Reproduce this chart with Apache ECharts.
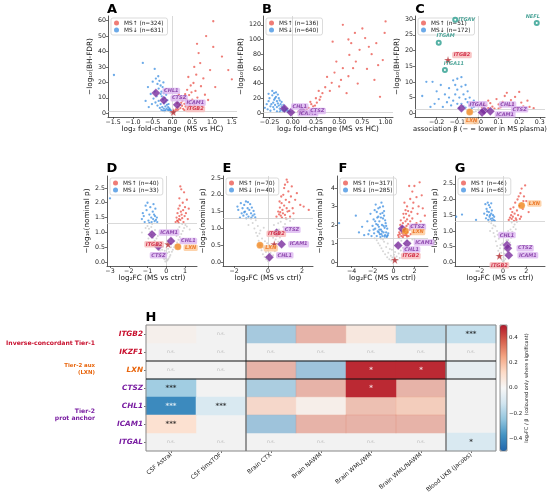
<!DOCTYPE html>
<html>
<head>
<meta charset="utf-8">
<script src="https://cdn.jsdelivr.net/npm/echarts@6/dist/echarts.min.js"></script>
<style>
  html, body { margin: 0; padding: 0; background: #fff; }
  #chart { width: 550px; height: 497px; }
</style>
</head>
<body>
<div id="chart"></div>
<script>
// ---------- data ----------
// panel A : log2FC vs -log10(BH-FDR), CSF
const aUp = [[0.05,1.5],[0.08,2.2],[0.1,3.1],[0.12,1.8],[0.14,4.2],[0.15,2.6],[0.18,5.5],[0.2,3.4],[0.22,6.8],[0.24,4.9],[0.25,8.2],[0.27,2.9],[0.28,10.5],[0.3,6.1],[0.32,12.4],[0.33,4.4],[0.35,9.0],[0.37,15.2],[0.38,7.3],[0.4,23.5],[0.42,11.8],[0.44,5.2],[0.46,18.0],[0.48,13.6],[0.5,8.8],[0.53,19.6],[0.55,30.0],[0.58,14.5],[0.6,25.0],[0.63,10.2],[0.66,39.0],[0.7,32.5],[0.72,17.5],[0.78,22.6],[0.82,12.0],[0.9,8.6],[0.95,28.0],[1.03,43.0],[1.03,59.6],[1.08,17.0],[1.25,36.7],[1.41,28.0],[0.62,45.0],[0.85,50.0],[0.12,6.5],[0.2,9.5],[0.16,12.0],[0.3,2.0],[0.45,3.0],[0.55,5.5],[1.5,22.0]];
const aDown = [[-1.48,24.8],[-0.75,32.6],[-0.45,28.7],[-0.62,17],[-0.55,12.5],[-0.68,8],[-0.5,20.5],[-0.42,22.5],[-0.38,19],[-0.35,16],[-0.33,21],[-0.3,18],[-0.28,14],[-0.27,11],[-0.25,17],[-0.24,9],[-0.22,13],[-0.21,6.5],[-0.2,15],[-0.19,10],[-0.18,4.5],[-0.17,7.5],[-0.16,12],[-0.15,3],[-0.14,5.5],[-0.13,8.5],[-0.12,2.2],[-0.11,4],[-0.1,6],[-0.09,1.8],[-0.08,3.2],[-0.07,2.5],[-0.06,1.5],[-0.05,2],[-0.04,1.6],[-0.3,6],[-0.35,8],[-0.4,11],[-0.45,14],[-0.26,4],[-0.22,3],[-0.18,2],[-0.32,3.5],[-0.28,2.2],[-0.24,1.6],[-0.2,1.4],[-0.38,5],[-0.43,7],[-0.48,9.5],[-0.52,6],[-0.6,4],[-0.3,12.5],[-0.23,20],[-0.36,24]];
const aNs = [[0.02,0.3],[-0.02,0.5],[0.04,0.8],[-0.04,0.2],[0.0,0.6],[0.06,0.4],[-0.06,0.9],[0.01,1.0]];
const aGenes = [['CHL1',-0.42,13.2],['CTSZ',-0.22,8.5],['ICAM1',0.12,5.5],['ITGB2',0.02,0.8]];

// panel B : log2FC vs -log10(BH-FDR), second CSF platform
const bUp = [[0.54,120],[1.0,124.6],[0.99,109],[0.97,72],[0.94,22],[0.67,109],[0.78,102],[0.72,86],[0.61,79],[0.43,97],[0.47,70],[0.54,61],[0.65,61],[0.37,49],[0.42,41],[0.5,36],[0.58,27],[0.32,27],[0.29,18],[0.26,14],[0.22,9],[0.17,7],[0.85,80],[0.9,95],[0.63,95],[0.75,115],[0.8,60],[0.88,45],[0.7,40],[0.6,50],[0.45,55],[0.35,35],[0.3,22],[0.25,20],[0.2,12],[0.15,5],[0.12,4],[0.1,2.5],[0.08,3.5],[0.06,1.5],[0.14,8],[0.19,15],[0.24,10],[0.28,30],[0.4,30],[0.52,45],[0.68,70],[0.82,90],[0.92,65],[0.6,100]];
const bDown = [[-0.3,7],[-0.28,12],[-0.26,16],[-0.25,20],[-0.24,9],[-0.22,30],[-0.22,24],[-0.21,14],[-0.2,27],[-0.2,18],[-0.19,11],[-0.18,28],[-0.18,22],[-0.17,16],[-0.17,8],[-0.16,25],[-0.16,13],[-0.15,20],[-0.15,10],[-0.14,6],[-0.14,17],[-0.13,12],[-0.13,4],[-0.12,9],[-0.12,15],[-0.11,7],[-0.11,3],[-0.1,11],[-0.1,5],[-0.09,8],[-0.09,2],[-0.08,6],[-0.08,3.5],[-0.07,4.5],[-0.06,2.5],[-0.06,5],[-0.05,3],[-0.05,1.5],[-0.04,2],[-0.03,1.2],[-0.2,5],[-0.24,3],[-0.27,5],[-0.33,2],[-0.17,2],[-0.14,1.5],[-0.23,12],[-0.19,20],[-0.21,8],[-0.26,26]];
const bNs = [[0.01,0.4],[-0.01,0.8],[0.02,1.0],[-0.02,0.3]];
const bGenes = [['CHL1',-0.09,6],['ICAM1',-0.02,0.8],['CTSZ',0.1,2.8]];

// panel C : plasma association beta vs -log10(BH-FDR)
const cUp = [[0.02,1.8],[0.04,2.5],[0.05,1.6],[0.06,3.2],[0.07,2.1],[0.08,1.5],[0.09,4.5],[0.1,2.8],[0.11,1.9],[0.12,3.6],[0.13,5.5],[0.14,6.5],[0.15,2.4],[0.16,4.2],[0.17,3.0],[0.18,5.2],[0.19,1.7],[0.2,6.8],[0.21,3.4],[0.22,2.2],[0.24,4.0],[0.25,2.0],[0.27,1.6],[0.03,2.9],[0.1,1.5],[0.05,4.0]];
const cDown = [[-0.25,10],[-0.22,10],[-0.27,5.5],[-0.2,7],[-0.18,9],[-0.16,6],[-0.14,8],[-0.12,10.5],[-0.11,9],[-0.1,11],[-0.1,7.5],[-0.09,5],[-0.08,8.5],[-0.08,3],[-0.07,6],[-0.07,2.2],[-0.06,4.5],[-0.06,1.8],[-0.05,3.5],[-0.05,7],[-0.04,2.5],[-0.04,5],[-0.03,1.6],[-0.03,3],[-0.02,2],[-0.12,4],[-0.13,2.5],[-0.15,3.5],[-0.17,2],[-0.19,4.5],[-0.21,3],[-0.1,3],[-0.09,1.7],[-0.11,6],[-0.14,5],[-0.06,9],[-0.02,4],[-0.08,11.5],[-0.23,2]];
const cNs = [[0.01,0.3],[-0.01,0.6],[0.02,0.9],[-0.02,0.4],[0.0,1.1]];
const cGenes = [['ITGB2',-0.145,17],['ITGAL',-0.08,1.6],['LXN',-0.04,0.4],['CHL1',0.03,0.9],['ICAM1',0.02,0.2],['CTSZ',0.06,0.6]];
const cOthers = [['ITGAV',-0.11,29.8],['NEFL',0.285,28.8],['ITGAM',-0.19,22.5],['ITGA11',-0.16,13.8]];

// panel D : log2FC vs -log10(nominal p)
const dUp = [[0.5,1.35],[0.55,1.5],[0.58,1.4],[0.6,1.65],[0.62,1.38],[0.65,1.8],[0.68,1.45],[0.7,1.55],[0.72,1.9],[0.75,2.55],[0.75,1.42],[0.78,1.7],[0.8,2.45],[0.82,1.6],[0.85,1.48],[0.88,2.0],[0.9,1.75],[0.95,2.35],[0.98,1.55],[1.0,1.85],[1.05,1.65],[1.1,2.1],[1.15,1.45],[1.2,1.8],[0.7,2.15],[0.92,1.35],[0.66,1.32]];
const dDown = [[-3.0,2.15],[-1.3,1.45],[-1.2,1.55],[-1.15,1.35],[-1.05,1.75],[-1.0,2.0],[-0.95,1.4],[-0.9,1.6],[-0.85,1.85],[-0.8,1.5],[-0.78,1.35],[-0.72,1.7],[-0.7,1.45],[-0.65,1.6],[-0.62,1.38],[-0.6,1.55],[-0.55,1.42],[-0.5,1.5],[-0.48,1.35],[-1.1,1.9],[-0.9,1.32],[-0.68,1.95],[-1.25,1.65],[-0.58,1.8]];
const dNs = [[-0.05,0.02],[0.03,0.05],[0.08,0.08],[-0.1,0.1],[0.12,0.12],[-0.15,0.15],[0.18,0.18],[-0.2,0.2],[0.22,0.24],[-0.25,0.26],[0.05,0.3],[-0.3,0.32],[0.3,0.35],[-0.08,0.38],[-0.35,0.4],[0.35,0.42],[0.1,0.45],[-0.4,0.48],[0.42,0.5],[-0.18,0.52],[-0.48,0.55],[0.5,0.58],[0.2,0.6],[-0.55,0.62],[0.58,0.66],[-0.3,0.68],[-0.62,0.72],[0.65,0.75],[0.3,0.78],[-0.7,0.82],[0.72,0.85],[-0.45,0.88],[-0.78,0.92],[0.8,0.95],[0.5,0.98],[-0.85,1.02],[0.88,1.05],[-0.6,1.08],[-0.92,1.12],[0.95,1.15],[0.7,1.18],[-1.0,1.22],[1.02,1.25],[-0.75,1.28],[-1.1,1.15],[1.1,1.2],[-0.02,0.12],[0.0,0.22],[-0.12,0.28],[0.15,0.34],[-0.22,0.42],[0.25,0.5],[-0.35,0.6],[0.4,0.7],[-0.52,0.8],[0.55,0.88],[-0.65,0.98],[0.62,1.1],[-0.8,1.18],[0.85,1.28],[-1.3,1.0],[1.25,1.1],[-0.95,0.8],[0.9,0.75]];
const dGenes = [['ICAM1',-0.76,0.93],['CTSZ',-0.42,0.53],['ITGB2',0.1,0.6],['CHL1',0.25,0.71],['LXN',0.62,0.52]];

// panel E
const eUp = [[0.5,1.35],[0.6,1.5],[0.65,1.42],[0.7,1.62],[0.75,1.38],[0.8,1.75],[0.85,1.55],[0.88,1.45],[0.9,2.0],[0.95,1.68],[1.0,2.3],[1.0,1.4],[1.05,1.85],[1.1,2.45],[1.1,1.6],[1.15,1.5],[1.2,2.1],[1.25,1.78],[1.3,1.35],[1.35,1.95],[1.4,2.25],[1.45,1.6],[1.5,1.45],[1.6,1.85],[1.7,2.05],[1.9,1.7],[2.1,1.65],[2.4,1.55],[0.78,1.95],[0.95,2.2],[1.15,2.38],[0.68,1.8],[0.82,1.32],[1.05,1.3],[1.25,1.52],[0.72,1.48]];
const eDown = [[-1.8,1.65],[-1.75,1.55],[-1.6,1.75],[-1.55,1.45],[-1.5,1.6],[-1.45,1.38],[-1.4,1.7],[-1.35,1.5],[-1.3,1.8],[-1.25,1.42],[-1.2,1.6],[-1.15,1.35],[-1.1,1.55],[-1.05,1.72],[-1.0,1.45],[-0.95,1.62],[-0.9,1.38],[-0.85,1.52],[-0.8,1.42],[-0.75,1.33],[-1.65,1.32],[-1.28,1.3],[-0.98,1.32],[-1.4,1.48],[-1.18,1.78]];
const eNs = [[0.0,0.03],[0.1,0.06],[-0.1,0.08],[0.2,0.12],[-0.2,0.15],[0.05,0.18],[0.3,0.2],[-0.3,0.23],[0.15,0.27],[-0.12,0.3],[0.4,0.32],[-0.38,0.35],[0.25,0.4],[-0.25,0.43],[0.5,0.46],[-0.45,0.5],[0.35,0.53],[-0.05,0.56],[0.6,0.6],[-0.55,0.63],[0.45,0.67],[-0.35,0.7],[0.7,0.73],[-0.62,0.77],[0.2,0.8],[0.55,0.84],[-0.7,0.87],[0.8,0.9],[-0.45,0.94],[0.65,0.97],[-0.8,1.0],[0.9,1.04],[-0.6,1.07],[0.35,1.1],[1.0,1.13],[-0.9,1.16],[0.75,1.2],[-0.72,1.24],[1.1,1.27],[-1.0,1.29],[1.3,1.22],[1.5,1.28],[-1.15,1.1],[0.1,0.5],[-0.18,0.62],[0.3,0.72],[-0.5,0.85],[0.48,0.95],[-0.25,1.02],[0.6,1.15],[0.0,0.35],[-0.08,0.15]];
const eGenes = [['CTSZ',0.51,0.87],['ITGB2',0.37,0.53],['ICAM1',0.8,0.53],['LXN',-0.47,0.5],['CHL1',0.08,0.14]];

// panel F
const fUp = [[2.5,4.3],[2.0,4.1],[1.5,4.1],[1.8,3.8],[2.2,3.5],[1.6,3.4],[2.8,2.9],[3.0,2.5],[2.4,3.0],[1.9,3.2],[1.3,3.0],[2.6,2.2],[1.2,2.6],[0.5,1.35],[0.6,1.5],[0.7,1.7],[0.75,1.4],[0.8,1.9],[0.85,1.55],[0.9,2.1],[0.95,1.45],[1.0,2.4],[1.05,1.65],[1.1,1.85],[1.15,2.2],[1.2,1.5],[1.25,1.95],[1.3,2.3],[1.35,1.6],[1.4,2.05],[1.45,1.4],[1.5,2.5],[1.55,1.75],[1.6,2.2],[1.65,1.5],[1.7,2.7],[1.75,1.9],[1.8,2.35],[1.9,1.6],[2.0,2.0],[2.1,1.7],[2.3,2.6],[0.65,2.0],[0.9,1.35],[1.1,1.45],[1.3,1.38],[0.55,1.6],[0.95,2.6],[1.15,2.8],[1.4,2.75],[1.0,1.75],[0.8,1.6],[1.25,1.45],[1.6,1.85],[2.2,2.1],[0.7,2.25],[0.45,1.45],[1.85,2.9],[1.05,3.2],[2.7,3.6]];
const fDown = [[-5.2,2.1],[-3.6,2.5],[-3.3,1.6],[-3.0,1.9],[-2.8,1.45],[-2.5,2.2],[-2.3,1.7],[-2.2,2.6],[-2.1,1.4],[-2.0,1.95],[-1.9,2.3],[-1.85,1.55],[-1.8,2.8],[-1.75,1.8],[-1.7,3.1],[-1.65,2.05],[-1.6,1.4],[-1.55,2.4],[-1.5,1.65],[-1.45,2.9],[-1.4,1.9],[-1.35,2.2],[-1.3,1.5],[-1.25,2.6],[-1.2,1.75],[-1.15,3.2],[-1.1,2.0],[-1.05,1.4],[-1.0,2.35],[-0.95,1.6],[-0.9,2.75],[-0.85,1.85],[-0.8,1.45],[-0.75,2.1],[-0.7,1.6],[-0.65,1.35],[-0.6,1.8],[-0.55,1.45],[-0.5,1.55],[-1.3,2.95],[-1.0,3.0],[-0.9,2.5],[-1.2,2.4],[-1.4,1.6],[-1.6,2.7],[-1.1,1.65],[-0.8,2.25],[-1.5,2.0],[-1.25,1.35],[-0.95,1.95],[-0.7,1.95],[-1.75,2.2],[-1.05,2.65],[-1.35,1.75],[-1.15,1.5],[-0.85,1.38],[-1.45,2.45],[-1.9,1.75],[-2.4,1.5],[-0.6,1.4]];
const fNs = [[0,0.03],[0.2,0.06],[-0.2,0.08],[0.4,0.12],[-0.4,0.15],[0.1,0.18],[0.6,0.22],[-0.6,0.26],[0.3,0.3],[-0.25,0.34],[0.8,0.38],[-0.8,0.42],[0.5,0.46],[-0.5,0.5],[1.0,0.54],[-1.0,0.58],[0.7,0.62],[-0.15,0.66],[1.2,0.7],[-1.15,0.74],[0.9,0.78],[-0.7,0.82],[1.4,0.86],[-1.3,0.9],[0.35,0.94],[1.1,0.98],[-1.45,1.02],[1.6,1.06],[-0.9,1.1],[1.3,1.14],[-1.6,1.18],[1.8,1.22],[-1.2,1.26],[0.6,1.28],[-1.8,1.29],[2.0,1.25],[0.05,0.4],[-0.35,0.7],[0.25,0.85],[-0.55,1.0],[0.75,1.15],[-1.0,1.22],[-0.1,0.25],[0.15,0.55]];
const fGenes = [['CTSZ',0.83,1.8],['LXN',1.14,1.67],['ICAM1',1.3,1.0],['CHL1',0.45,0.9],['ITGB2',0.13,0.12]];

// panel G
const gUp = [[0.5,1.35],[0.6,1.42],[0.7,1.5],[0.75,1.38],[0.8,1.6],[0.85,1.45],[0.9,1.75],[1.0,1.55],[1.05,1.9],[1.1,1.4],[1.2,1.65],[1.25,2.0],[1.3,1.5],[1.4,1.8],[1.5,2.2],[1.55,1.45],[1.6,2.35],[1.7,1.7],[1.8,2.1],[1.9,2.45],[2.0,1.95],[2.2,1.6],[0.95,1.32],[1.15,1.35],[1.45,1.38],[1.35,2.1],[0.65,1.7],[1.75,1.95]];
const gDown = [[-4.0,1.45],[-3.5,1.52],[-2.3,1.35],[-1.6,1.55],[-1.5,1.85],[-1.45,1.4],[-1.4,1.7],[-1.35,1.5],[-1.3,1.9],[-1.25,1.35],[-1.2,1.6],[-1.15,1.45],[-1.1,1.75],[-1.05,1.38],[-1.0,1.55],[-0.95,1.65],[-0.9,1.4],[-0.85,1.5],[-0.8,1.35],[-0.75,1.45],[-1.2,1.82],[-1.0,1.88],[-1.35,1.62],[-0.95,1.32],[-1.1,1.5],[-0.7,1.32]];
const gNs = [[0,0.02],[0.1,0.05],[-0.1,0.08],[0.2,0.1],[-0.2,0.13],[0.05,0.16],[0.3,0.2],[-0.3,0.23],[0.15,0.27],[-0.15,0.3],[0.4,0.33],[-0.4,0.37],[0.25,0.41],[-0.25,0.45],[0.5,0.48],[-0.5,0.52],[0.35,0.56],[-0.05,0.6],[0.6,0.63],[-0.6,0.67],[0.45,0.71],[-0.35,0.75],[0.7,0.78],[-0.7,0.82],[0.2,0.86],[0.55,0.9],[-0.8,0.93],[0.8,0.97],[-0.5,1.0],[0.65,1.04],[-0.9,1.08],[0.9,1.12],[-0.65,1.15],[1.0,1.2],[-1.0,1.24],[0.75,1.27],[-1.2,1.29],[1.2,1.28],[0.1,0.4],[-0.2,0.55],[0.3,0.7],[-0.45,0.88],[0.45,1.0],[-0.8,1.18],[1.1,1.05],[-1.1,1.0]];
const gGenes = [['LXN',1.6,1.81],['CHL1',0.35,0.55],['CTSZ',0.42,0.45],['ICAM1',0.5,0.22],['ITGB2',-0.3,0.2]];

// counts shown in the legends [MS up, MS down]
const counts = { A:[324,631], B:[136,640], C:[51,172], D:[40,33], E:[70,40], F:[317,285], G:[46,65] };

// tick labels
const aXTicks = [-1.5,-1,-0.5,0,0.5,1,1.5], aYTicks = [0,10,20,30,40,50,60];
const bXTicks = [-0.25,0,0.25,0.5,0.75,1], bYTicks = [0,20,40,60,80,100,120];
const cXTicks = [-0.2,-0.1,0,0.1,0.2,0.3], cYTicks = [0,5,10,15,20,25,30];
const dXTicks = [-3,-2,-1,0,1], pYTicks = [0,0.5,1,1.5,2,2.5];
const eXTicks = [-2,0,2];
const fXTicks = [-4,-2,0,2], fYTicks = [0,1,2,3,4];
const gXTicks = [-2,0,2];

// panel H heatmap
const heatRows = ['ITGB2','IKZF1','LXN','CTSZ','CHL1','ICAM1','ITGAL'];
const heatCols = ['CSF Astral','CSF timsTOF','Brain CTX','Brain NAWM','Brain WML/WM','Brain WML/NAWM','Blood UKB (Jacobs)'];
const heatValues = [
  [0.05, null, -0.35, 0.35, 0.12, -0.28, -0.15],
  [null, null, null, null, null, null, null],
  [null, null, 0.35, -0.38, 0.47, 0.47, -0.1],
  [-0.22, null, -0.33, 0.35, 0.47, 0.35, null],
  [-0.4, -0.1, 0.2, 0.06, 0.3, 0.25, null],
  [0.1, null, -0.38, 0.35, 0.35, 0.35, null],
  [null, null, null, null, null, null, -0.1]
];
const heatMarks = [
  ['', 'n.s.', '', '', '', '', '***'],
  ['n.s.','n.s.','n.s.','n.s.','n.s.','n.s.','n.s.'],
  ['n.s.','n.s.', '', '', '*', '*', ''],
  ['***', '', '', '', '*', '', ''],
  ['***', '***', '', '', '', '', ''],
  ['***', '', '', '', '', '', ''],
  ['n.s.','n.s.','n.s.','n.s.','n.s.','n.s.','*']
];
const cbTicks = [-0.4, -0.2, 0, 0.2, 0.4];

// ---------- styles / layout ----------
const FONT = 'DejaVu Sans';
const RED = '#e8453c', BLUE = '#3b8de0', GRAY = '#b5b5b5';
const STAR = 'path://M50,2 L61,36 L97,36 L68,57 L79,92 L50,71 L21,92 L32,57 L3,36 L39,36 Z';
const geneKind = { CHL1:'purple', CTSZ:'purple', ICAM1:'purple', ITGAL:'purple', ITGB2:'red', IKZF1:'red', LXN:'orange',
                   ITGAV:'teal', NEFL:'teal', ITGAM:'teal', ITGA11:'teal' };
const kinds = {
  purple: { symbol:'diamond', size:9, color:'#7b2d9e', bg:'#dcb6f0', text:'#7b2d9e' },
  red:    { symbol:STAR, size:8, color:'#b3262b', bg:'#f7b9b9', text:'#c8102e' },
  orange: { symbol:'circle', size:7, color:'#f0851a', bg:'#fcc897', text:'#e8650c' },
  teal:   { symbol:'emptyCircle', size:4, color:'#2a9d8f', bg:null, text:'#1f8f7f' }
};
// label placement per panel: [position, dx, dy]
const labelPlace = {
  A: { CHL1:['right',0,-2], CTSZ:['right',0,-2], ICAM1:['right',1,-2], ITGB2:['right',6,-3] },
  B: { CHL1:['right',0,-2], ICAM1:['right',0,1], CTSZ:['right',0,0] },
  C: { ITGB2:['right',-2,-5], ITGAL:['right',0,-4], LXN:['bottom',2,0], CHL1:['right',8,-6], ICAM1:['right',6,2], CTSZ:['right',14,-2],
       ITGAV:['right',-2,0], NEFL:['top',-4,1], ITGAM:['top',7,1], ITGA11:['top',9,1] },
  D: { ICAM1:['right',0,-2], CTSZ:['bottom',0,-1], ITGB2:['left',2,0], CHL1:['right',2,0], LXN:['right',0,1] },
  E: { CTSZ:['right',0,-3], ITGB2:['top',2,-1], ICAM1:['right',0,0], LXN:['right',-2,3], CHL1:['right',0,-2] },
  F: { CTSZ:['right',0,-2], LXN:['right',0,1], ICAM1:['right',0,-1], CHL1:['right',-2,4], ITGB2:['right',0,-4] },
  G: { LXN:['right',0,-2], CHL1:['top',0,0], CTSZ:['right',2,0], ICAM1:['right',2,0], ITGB2:['bottom',0,0] }
};

const panels = [
  { id:'A', box:[108,16,129,101], xr:[-1.63,1.63], yr:[-2.4,63], xt:aXTicks, yt:aYTicks, xd:1, yd:0,
    xName:'log\u2082 fold-change (MS vs HC)', yName:'\u2212log\u2081\u2080(BH-FDR)', up:aUp, down:aDown, ns:aNs, genes:aGenes, others:[] },
  { id:'B', box:[263,16,130,101], xr:[-0.32,1.08], yr:[-5.5,132], xt:bXTicks, yt:bYTicks, xd:2, yd:0,
    xName:'log\u2082 fold-change (MS vs HC)', yName:'\u2212log\u2081\u2080(BH-FDR)', up:bUp, down:bDown, ns:bNs, genes:bGenes, others:[] },
  { id:'C', box:[415,16,130,101], xr:[-0.305,0.325], yr:[-1.2,31], xt:cXTicks, yt:cYTicks, xd:1, yd:0,
    xName:'association \u03b2 (\u2212 = lower in MS plasma)', yName:'\u2212log\u2081\u2080(BH-FDR)', up:cUp, down:cDown, ns:cNs, genes:cGenes, others:cOthers },
  { id:'D', box:[107,176,90,90], xr:[-3.16,1.64], yr:[-0.13,2.9], xt:dXTicks, yt:pYTicks, xd:0, yd:1,
    xName:'log\u2082FC (MS vs ctrl)', yName:'\u2212log\u2081\u2080(nominal p)', up:dUp, down:dDown, ns:dNs, genes:dGenes, others:[] },
  { id:'E', box:[223,176,90,90], xr:[-2.65,2.65], yr:[-0.12,2.56], xt:eXTicks, yt:pYTicks, xd:0, yd:1,
    xName:'log\u2082FC (MS vs ctrl)', yName:'\u2212log\u2081\u2080(nominal p)', up:eUp, down:eDown, ns:eNs, genes:eGenes, others:[] },
  { id:'F', box:[337,176,91,90], xr:[-5.4,3.3], yr:[-0.21,4.64], xt:fXTicks, yt:fYTicks, xd:0, yd:0,
    xName:'log\u2082FC (MS vs ctrl)', yName:'\u2212log\u2081\u2080(nominal p)', up:fUp, down:fDown, ns:fNs, genes:fGenes, others:[] },
  { id:'G', box:[455,176,90,90], xr:[-4.1,3.6], yr:[-0.12,2.75], xt:gXTicks, yt:pYTicks, xd:0, yd:1,
    xName:'log\u2082FC (MS vs ctrl)', yName:'\u2212log\u2081\u2080(nominal p)', up:gUp, down:gDown, ns:gNs, genes:gGenes, others:[] }
];

const HM = { left:146, top:325, width:350, height:126 };
const CB = { left:500, top:325, width:7, height:126 };

// ---------- build option ----------
const fmt = d => v => v.toFixed(d).replace('-', '\u2212');

function valueAxis(i, range, ticks, dec, name, gap, nameSize) {
  return {
    type:'value', gridIndex:i, min:range[0], max:range[1],
    name:name, nameLocation:'middle', nameGap:gap,
    nameTextStyle:{ fontSize:nameSize || 7.3, fontFamily:FONT, color:'#111' },
    axisLine:{ show:true, onZero:false, lineStyle:{ color:'#333', width:0.8 } },
    axisTick:{ show:true, length:2, customValues:ticks, lineStyle:{ color:'#333', width:0.7 } },
    axisLabel:{ customValues:ticks, formatter:fmt(dec), fontSize:6.3, fontFamily:FONT, color:'#222', margin:2 },
    splitLine:{ show:false }
  };
}

function geneSeries(i, panelId, list) {
  return {
    type:'scatter', xAxisIndex:i, yAxisIndex:i, z:5, silent:true,
    data:list.map(([g, x, y]) => {
      const k = kinds[geneKind[g]];
      const pl = labelPlace[panelId][g] || ['right',0,0];
      return {
        name:g, value:[x, y], symbol:k.symbol, symbolSize:k.size,
        itemStyle:{ color:k.color, borderColor:k.symbol === 'emptyCircle' ? k.color : '#fff', borderWidth:k.symbol === 'emptyCircle' ? 0.9 : 0.3 },
        label:{
          show:true, formatter:'{b}', position:pl[0], offset:[pl[1], pl[2]], distance:2,
          fontSize:5, fontFamily:FONT, fontStyle:'italic', fontWeight:'bold', color:k.text,
          backgroundColor:k.bg || 'transparent', padding:k.bg ? [1,1.5,0.5,1.5] : 0, borderRadius:1.5
        }
      };
    })
  };
}

const grid = [], xAxis = [], yAxis = [], series = [], legend = [];

panels.forEach((p, i) => {
  const top = p.id < 'D';
  grid.push({ left:p.box[0], top:p.box[1], width:p.box[2], height:p.box[3], outerBoundsMode:'none' });
  xAxis.push(valueAxis(i, p.xr, p.xt, p.xd, p.xName, top ? 9 : 8, p.id === 'C' ? 6.8 : 7.3));
  yAxis.push(valueAxis(i, p.yr, p.yt, p.yd, p.yName, top ? (p.id === 'A' ? 11 : 14) : 13));
  const upName = 'MS\u2191 (n=' + counts[p.id][0] + ')';
  const downName = 'MS\u2193 (n=' + counts[p.id][1] + ')';
  series.push({
    type:'scatter', xAxisIndex:i, yAxisIndex:i, data:p.ns, symbolSize:2, silent:true,
    itemStyle:{ color:GRAY, opacity:0.55 },
    markLine:{ silent:true, symbol:'none', label:{ show:false }, animation:false,
      lineStyle:{ color:'#cfcfcf', width:0.8, type:'solid' },
      data:[{ xAxis:0 }, { yAxis:1.3 }] }
  });
  series.push({ name:downName, type:'scatter', xAxisIndex:i, yAxisIndex:i, data:p.down, symbolSize:2.3, silent:true,
    itemStyle:{ color:BLUE, opacity:0.75 } });
  series.push({ name:upName, type:'scatter', xAxisIndex:i, yAxisIndex:i, data:p.up, symbolSize:2.3, silent:true,
    itemStyle:{ color:RED, opacity:0.7 } });
  if (p.others.length) series.push(geneSeries(i, p.id, p.others));
  series.push(geneSeries(i, p.id, p.genes));
  legend.push({
    left:p.box[0] + 3, top:p.box[1] + 2, orient:'vertical', itemGap:1, itemWidth:5, itemHeight:5,
    icon:'circle', padding:[2,4,2,3], borderColor:'#cccccc', borderWidth:0.7, borderRadius:2,
    backgroundColor:'rgba(255,255,255,0.85)', selectedMode:false,
    textStyle:{ fontSize:5.8, fontFamily:FONT, color:'#222' },
    data:[upName, downName]
  });
});

// heatmap grid and colorbar axis grid
const hIdx = panels.length;
grid.push({ left:HM.left, top:HM.top, width:HM.width, height:HM.height, outerBoundsMode:'none' });
xAxis.push({
  type:'category', gridIndex:hIdx, data:heatCols, axisLine:{ show:false },
  axisTick:{ show:true, alignWithLabel:true, length:2, lineStyle:{ color:'#333', width:0.7 } },
  axisLabel:{ interval:0, rotate:40, fontSize:6, fontFamily:FONT, color:'#222', margin:3 },
  splitLine:{ show:false }
});
const rowRich = {};
['red','orange','purple'].forEach(k => {
  rowRich[k] = { color:kinds[k].text, fontSize:7.3, fontFamily:FONT, fontStyle:'italic', fontWeight:'bold' };
});
rowRich.red.color = '#c8102e';
rowRich.purple.color = '#7a1fa2';
yAxis.push({
  type:'category', gridIndex:hIdx, data:heatRows, inverse:true, axisLine:{ show:false },
  axisTick:{ show:true, alignWithLabel:true, length:2, lineStyle:{ color:'#333', width:0.7 } },
  axisLabel:{ interval:0, margin:3, formatter:v => '{' + geneKind[v] + '|' + v + '}', rich:rowRich },
  splitLine:{ show:false }
});
const cbIdx = hIdx + 1;
grid.push({ left:CB.left, top:CB.top, width:CB.width, height:CB.height, outerBoundsMode:'none' });
xAxis.push({ type:'value', gridIndex:cbIdx, show:false, min:0, max:1 });
yAxis.push({
  type:'value', gridIndex:cbIdx, position:'right', min:-0.5, max:0.5,
  axisLine:{ show:false },
  axisTick:{ show:true, length:2, customValues:cbTicks, lineStyle:{ color:'#333', width:0.7 } },
  axisLabel:{ customValues:cbTicks, formatter:fmt(1), fontSize:5.5, fontFamily:FONT, color:'#222', margin:2 },
  splitLine:{ show:false }
});

const allCells = [], fadedCells = [], vividCells = [], markCells = [];
heatRows.forEach((g, r) => {
  heatCols.forEach((c, ci) => {
    allCells.push([ci, r, 0]);
    const v = heatValues[r][ci];
    const m = heatMarks[r][ci];
    if (v !== null && m.indexOf('*') >= 0) vividCells.push([ci, r, v]);
    else if (v !== null) fadedCells.push([ci, r, v]);
    if (m) {
      const star = m !== 'n.s.';
      markCells.push({
        name:m, value:[ci, r],
        label:{ color:star ? (v !== null && Math.abs(v) >= 0.35 ? '#ffffff' : '#111') : '#a8a8a8',
                fontSize:star ? 7 : 4.6, fontWeight:star ? 'bold' : 'normal' }
      });
    }
  });
});

series.push({ type:'heatmap', xAxisIndex:hIdx, yAxisIndex:hIdx, data:allCells, silent:true,
  itemStyle:{ color:'#f2f2f2' } });
const fadedIdx = series.length;
series.push({ type:'heatmap', xAxisIndex:hIdx, yAxisIndex:hIdx, data:fadedCells, silent:true,
  itemStyle:{ opacity:0.48 } });
const vividIdx = series.length;
series.push({ type:'heatmap', xAxisIndex:hIdx, yAxisIndex:hIdx, data:vividCells, silent:true });
series.push({ type:'scatter', xAxisIndex:hIdx, yAxisIndex:hIdx, data:markCells, symbolSize:0, silent:true, z:6,
  label:{ show:true, position:'inside', formatter:'{b}', fontFamily:FONT } });
series.push({ type:'scatter', xAxisIndex:cbIdx, yAxisIndex:cbIdx, data:[], silent:true });

// layout-only drawing: panel letters, frames, separators, side labels
const letters = [['A',112,10],['B',267,10],['C',420,10],['D',112,169],['E',227,169],['F',343,169],['G',460,169],['H',151,318]];
const graphic = letters.map(([t, x, y]) => ({
  type:'text', z:10, style:{ text:t, x:x, y:y, textAlign:'center', textVerticalAlign:'middle',
    fontSize:13, fontWeight:'bold', fontFamily:FONT, fill:'#000' }
}));
const colW = HM.width / heatCols.length, rowH = HM.height / heatRows.length;
const line = (x1, y1, x2, y2, color, w) => ({ type:'line', z:10, silent:true,
  shape:{ x1, y1, x2, y2 }, style:{ stroke:color, lineWidth:w } });
graphic.push({ type:'rect', z:10, silent:true, shape:{ x:HM.left, y:HM.top, width:HM.width, height:HM.height },
  style:{ fill:null, stroke:'#888', lineWidth:1 } });
graphic.push(line(HM.left + 2 * colW, HM.top, HM.left + 2 * colW, HM.top + HM.height, '#777', 1.5));
graphic.push(line(HM.left + 6 * colW, HM.top, HM.left + 6 * colW, HM.top + HM.height, '#777', 1.5));
graphic.push(line(HM.left, HM.top + 2 * rowH, HM.left + HM.width, HM.top + 2 * rowH, '#111', 1.1));
graphic.push(line(HM.left, HM.top + 3 * rowH, HM.left + HM.width, HM.top + 3 * rowH, '#111', 1.1));
graphic.push({ type:'rect', z:10, silent:true, shape:{ x:CB.left, y:CB.top, width:CB.width, height:CB.height },
  style:{ fill:null, stroke:'#555', lineWidth:0.6 } });
const sideText = (t, y, color, size) => ({ type:'text', z:10, silent:true,
  style:{ text:t, x:95, y:y, textAlign:'right', textVerticalAlign:'middle', fontSize:size, fontWeight:'bold', fontFamily:FONT, fill:color } });
graphic.push(sideText('Inverse-concordant Tier-1', 343, '#c8102e', 6.1));
graphic.push(sideText('Tier-2 aux', 366, '#e8650c', 5.4));
graphic.push(sideText('(LXN)', 373, '#e8650c', 5.4));
graphic.push(sideText('Tier-2', 411, '#7a1fa2', 6.1));
graphic.push(sideText('prot anchor', 418, '#7a1fa2', 6.1));
graphic.push({ type:'text', z:10, silent:true, rotation:Math.PI / 2, x:527, y:CB.top + CB.height / 2,
  style:{ text:'log\u2082FC / \u03b2  (coloured only where significant)', textAlign:'center', textVerticalAlign:'middle',
    fontSize:5, fontFamily:FONT, fill:'#222' } });

const option = {
  animation:false,
  backgroundColor:'#ffffff',
  textStyle:{ fontFamily:FONT },
  grid, xAxis, yAxis, legend, series, graphic,
  visualMap:{
    type:'continuous', min:-0.5, max:0.5, seriesIndex:[fadedIdx, vividIdx], dimension:2,
    left:CB.left, top:CB.top, itemWidth:CB.width, itemHeight:CB.height, padding:0,
    calculable:false, hoverLink:false, realtime:false, text:null, showLabel:false,
    inRange:{ color:['#2166ac','#4393c3','#92c5de','#d1e5f0','#f7f7f7','#fddbc7','#f4a582','#d6604d','#b2182b'] }
  }
};

const chart = echarts.init(document.getElementById('chart'), null, { renderer:'canvas' });
chart.setOption(option);
</script>
</body>
</html>
